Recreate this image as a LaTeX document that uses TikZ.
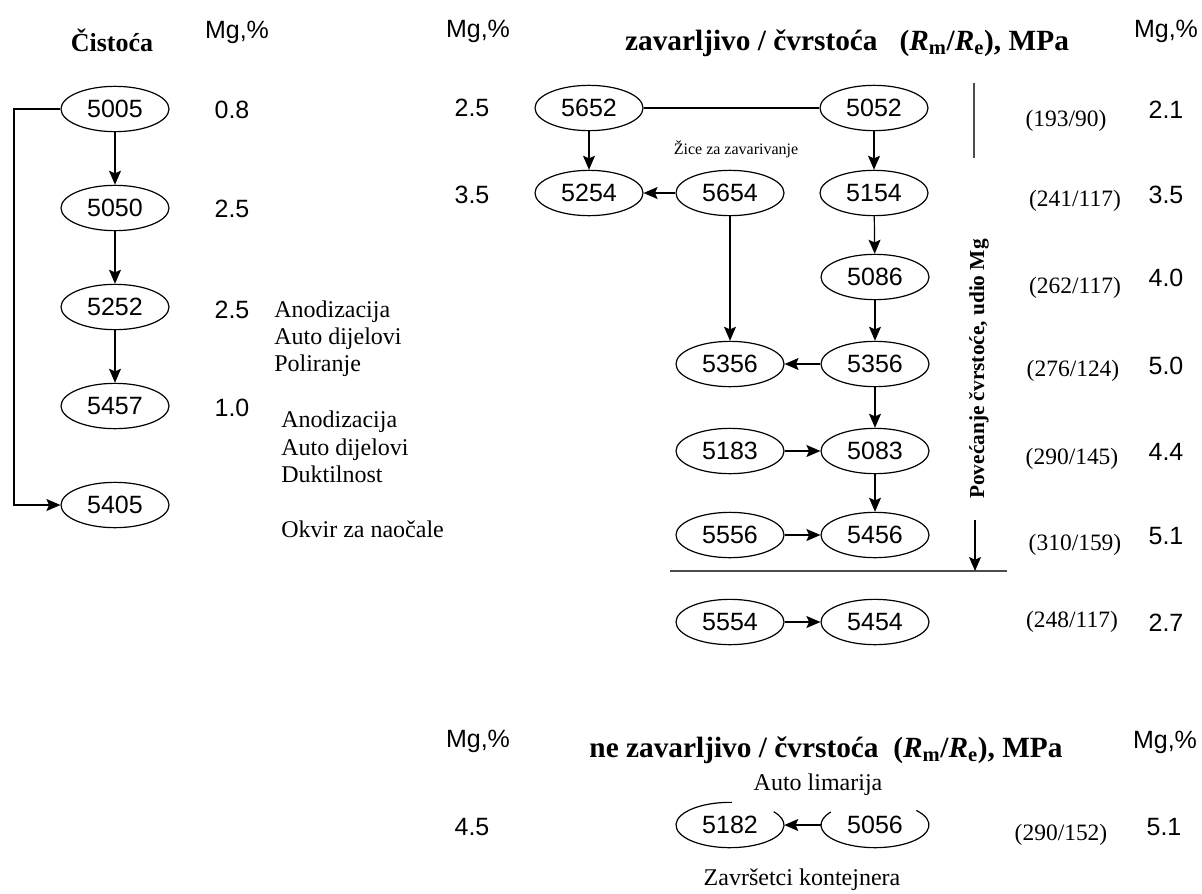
\documentclass[tikz,border=0pt]{standalone}
\usepackage{fontspec}
\setmainfont{Liberation Serif}
\newfontfamily\arialf{Liberation Sans}
\usetikzlibrary{shapes.geometric,arrows.meta}
\begin{document}
\begin{tikzpicture}[x=0.75pt,y=-0.75pt,
  ell/.style={ellipse, draw, line width=0.9pt, minimum width=81pt, minimum height=34pt, inner sep=0pt, font=\arialf\fontsize{18.75}{20}\selectfont},
  ellnd/.style={ellipse, minimum width=81pt, minimum height=34pt, inner sep=0pt, font=\arialf\fontsize{18.75}{20}\selectfont},
  arr/.style={-{Stealth[length=10.5pt,width=9pt,inset=2pt]}, line width=0.9pt},
  ln/.style={line width=0.9pt},
  sep/.style={line width=1.5pt, draw=black!70},
  mg/.style={font=\arialf\fontsize{18.75}{22}\selectfont, inner sep=0pt},
  mgh/.style={font=\arialf\fontsize{18.75}{22}\selectfont, inner sep=0pt, anchor=base},
  st/.style={font=\fontsize{17.6}{20}\selectfont, inner sep=0pt},
  app/.style={font=\fontsize{18}{20}\selectfont, inner sep=0pt, anchor=base west},
  appc/.style={font=\fontsize{18}{20}\selectfont, inner sep=0pt, anchor=base},
  ttl/.style={font=\bfseries\fontsize{22}{24}\selectfont, inner sep=0pt, anchor=base},
]
\useasboundingbox (0,0) rectangle (1202,893);

% headings
\node[font=\bfseries\fontsize{19.5}{22}\selectfont, inner sep=0pt, anchor=base] (tcist) at (112,51) {Čistoća};
\node[mgh] (mgA) at (237,38) {Mg,\%};
\node[mgh] (mgB) at (478,37) {Mg,\%};
\node[mgh] (mgC) at (1166,37) {Mg,\%};
\node[ttl] (tzav) at (847,50) {zavarljivo / čvrstoća \ \ (\textit{R}\textsubscript{m}/\textit{R}\textsubscript{e}), MPa};

% left column
\node[ell] (a5005) at (115,109) {5005};
\node[ell] (a5050) at (115,208) {5050};
\node[ell] (a5252) at (115,307) {5252};
\node[ell] (a5457) at (115,406) {5457};
\node[ell] (a5405) at (115,505) {5405};
\draw[arr] (a5005) -- (a5050);
\draw[arr] (a5050) -- (a5252);
\draw[arr] (a5252) -- (a5457);
\coordinate (l1) at (14,109);
\coordinate (l2) at (14,505);
\draw[arr] (a5005.west) -- (l1) -- (l2) -- (a5405.west);

\node[mg] (v08) at (232,110) {0.8};
\node[mg] (v25a) at (232,209) {2.5};
\node[mg] (v25b) at (232,310) {2.5};
\node[mg] (v10) at (232,408) {1.0};

\node[app] (p1) at (274,317) {Anodizacija};
\node[app] (p2) at (274,344) {Auto dijelovi};
\node[app] (p3) at (274,371) {Poliranje};
\node[app] (q1) at (281,427) {Anodizacija};
\node[app] (q2) at (281,455) {Auto dijelovi};
\node[app] (q3) at (281,482) {Duktilnost};
\node[app] (q4) at (281,537) {Okvir za naočale};

% middle values
\node[mg] (m25) at (472,108) {2.5};
\node[mg] (m35) at (472,195) {3.5};

% weldable group
\node[ell] (b5652) at (589,108) {5652};
\node[ell] (b5254) at (589,193) {5254};
\node[ell] (b5654) at (730,193) {5654};
\node[ell] (b5052) at (874,108) {5052};
\node[ell] (b5154) at (874,193) {5154};
\node[ell] (b5086) at (875,277) {5086};
\node[ell] (b5356r) at (875,364) {5356};
\node[ell] (b5356l) at (730,364) {5356};
\node[ell] (b5183) at (730,451) {5183};
\node[ell] (b5083) at (875,451) {5083};
\node[ell] (b5556) at (730,535) {5556};
\node[ell] (b5456) at (875,535) {5456};
\node[ell] (b5554) at (730,622) {5554};
\node[ell] (b5454) at (875,622) {5454};

\draw[ln] (b5652) -- (b5052);
\draw[arr] (b5652) -- (b5254);
\draw[arr] (b5654) -- (b5254);
\draw[arr] (b5052) -- (b5154);
\draw[arr] (b5154) -- (b5086);
\draw[arr] (b5654) -- (b5356l);
\draw[arr] (b5086) -- (b5356r);
\draw[arr] (b5356r) -- (b5356l);
\draw[arr] (b5356r) -- (b5083);
\draw[arr] (b5183) -- (b5083);
\draw[arr] (b5083) -- (b5456);
\draw[arr] (b5556) -- (b5456);
\draw[arr] (b5554) -- (b5454);

\node[font=\fontsize{12}{14}\selectfont, inner sep=0pt, anchor=base] (zice) at (736,154) {Žice za zavarivanje};

% separators
\coordinate (v1) at (974,83);
\coordinate (v2) at (974,158);
\draw[sep] (v1) -- (v2);
\coordinate (h1) at (670,571);
\coordinate (h2) at (1007,571);
\draw[sep] (h1) -- (h2);
\coordinate (pa) at (975,520);
\coordinate (pb) at (975,571);
\draw[arr] (pa) -- (pb);
\node[font=\bfseries\fontsize{16}{18}\selectfont, inner sep=0pt, rotate=90] (pov) at (979,369) {Povećanje čvrstoće, udio Mg};

% strength values
\node[st] (s1) at (1066,121) {(193/90)};
\node[st] (s2) at (1075,201) {(241/117)};
\node[st] (s3) at (1075,288) {(262/117)};
\node[st] (s4) at (1073,371) {(276/124)};
\node[st] (s5) at (1072,459) {(290/145)};
\node[st] (s6) at (1075,545) {(310/159)};
\node[st] (s7) at (1072,622) {(248/117)};

\node[mg] (r1) at (1166,110) {2.1};
\node[mg] (r2) at (1166,195) {3.5};
\node[mg] (r3) at (1166,278) {4.0};
\node[mg] (r4) at (1166,366) {5.0};
\node[mg] (r5) at (1166,452) {4.4};
\node[mg] (r6) at (1166,536) {5.1};
\node[mg] (r7) at (1166,623) {2.7};

% non-weldable group
\node[mgh] (mgD) at (478,747) {Mg,\%};
\node[mgh] (mgE) at (1165,748) {Mg,\%};
\node[ttl] (tne) at (826,757) {ne zavarljivo / čvrstoća \ (\textit{R}\textsubscript{m}/\textit{R}\textsubscript{e}), MPa};
\node[appc] (auto) at (818,790) {Auto limarija};
\node[appc] (zav) at (802,885) {Završetci kontejnera};
\node[mg] (m45) at (472,827) {4.5};
\node[ellnd] (c5182) at (730,825) {5182};
\node[ellnd] (c5056) at (875,825) {5056};
\draw[ln] ([shift={(88:40.5pt and 17pt)}]c5182.center) arc[start angle=88, end angle=396, x radius=40.5pt, y radius=17pt];
\draw[ln] ([shift={(40:40.5pt and 17pt)}]c5056.center) arc[start angle=40, end angle=-215, x radius=40.5pt, y radius=17pt];
\draw[arr] (c5056) -- (c5182);
\node[st] (s8) at (1061,835) {(290/152)};
\node[mg] (r8) at (1164,827) {5.1};
\end{tikzpicture}
\end{document}
